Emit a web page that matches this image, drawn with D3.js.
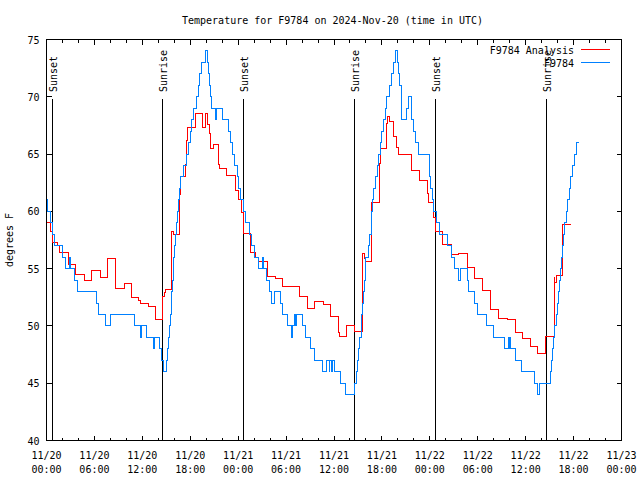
<!DOCTYPE html>
<html>
<head>
<meta charset="utf-8">
<script src="https://cdn.jsdelivr.net/npm/d3@7"></script>
<style>
  html, body { margin: 0; padding: 0; background: #fff; }
  svg { display: block; }
  text { font-family: "DejaVu Sans Mono", "Liberation Mono", monospace; font-size: 10px; fill: #000; }
</style>
</head>
<body>
<svg id="chart" width="640" height="480"></svg>
<script>
// ---- data (hours after 2024-11-20 00:00 UTC) ----
const title = "Temperature for F9784 on 2024-Nov-20 (time in UTC)";
const yLabel = "degrees F";
const seriesNames = ["F9784 Analysis", "F9784"];
const yTicks = [40, 45, 50, 55, 60, 65, 70, 75];

const sunEventNames = ["Sunset", "Sunrise", "Sunset", "Sunrise", "Sunset", "Sunrise"];
const sunEventHours = [0.73, 14.5, 24.65, 38.55, 48.69, 62.59];

// F9784 observations (step changes)
const obsHours = [0.0,0.1,0.44,0.69,1.0,2.02,2.44,2.86,3.03,3.5,3.86,6.28,6.57,7.45,8.03,11.0,11.79,11.92,12.55,13.4,13.5,14.09,14.42,14.71,15.0,15.17,15.3,15.4,15.5,15.6,15.68,15.76,15.84,15.92,16.0,16.1,16.25,16.4,16.5,16.6,16.72,17.13,17.55,17.76,17.97,18.18,18.38,18.81,19.01,19.22,19.43,19.97,20.14,20.28,20.39,20.56,20.68,21.22,21.31,22.06,22.77,23.1,23.31,23.6,23.9,24.06,24.23,24.65,24.9,25.4,25.61,26.03,26.57,26.99,27.15,27.6,27.9,28.2,28.61,29.28,29.6,30.2,30.7,30.78,31.03,31.24,31.32,32.08,32.45,33.0,33.54,34.6,35.08,35.4,35.48,35.7,35.78,36.04,36.79,37.5,38.6,38.84,39.0,39.12,39.25,39.4,39.5,39.62,39.72,39.8,39.9,40.0,40.3,40.5,40.65,40.75,40.85,41.0,41.2,41.4,41.6,41.8,42.0,42.2,42.4,42.6,43.0,43.2,43.4,43.64,43.95,44.1,44.25,44.4,44.5,45.02,45.31,45.73,45.94,46.25,46.6,47.94,48.1,48.35,48.5,48.81,49.15,50.19,50.7,51.03,51.61,51.78,52.7,52.86,53.61,54.03,55.07,56.0,57.37,57.79,57.87,58.0,58.1,58.7,59.5,61.1,61.46,61.72,63.13,63.25,63.38,63.54,63.67,63.88,64.0,64.09,64.2,64.3,64.5,64.63,64.71,64.85,65.13,65.26,65.55,65.67,65.84,66.09,66.4,66.67];
const obsTemps = [61,60,59,58,57,56,55,56,55,54,53,52,51,50,51,50,49,50,49,48,49,48,47,46,47,48,49,50,51,52,53,54,55,56,57,58,59,60,61,62,63,64,65,66,67,68,69,70,71,72,73,74,73,72,71,70,69,68,69,68,67,66,65,64,63,62,61,60,59,58,57,56,55,56,55,54,53,52,53,52,51,50,49,50,51,50,51,50,49,48,47,46,47,46,47,46,47,46,45,44,45,46,47,48,49,50,51,52,53,54,55,56,57,58,59,60,61,62,63,64,65,66,67,68,69,70,71,72,73,74,73,72,71,69,68,69,70,68,67,66,65,63,62,61,60,59,58,57,56,55,54,55,54,53,52,51,50,49,48,49,48,49,48,47,46,45,44,45,46,47,48,49,50,51,52,53,54,55,56,57,58,59,60,61,62,63,64,65,66,66];

// F9784 Analysis (step changes)
const anaHours = [0.0,0.55,0.69,1.36,1.69,2.74,3.69,4.75,5.65,6.72,7.7,8.7,9.75,10.66,11.5,11.71,12.75,13.7,14.55,14.72,14.9,15.68,15.85,16.6,16.8,17.35,17.5,17.65,18.65,19.55,19.97,20.14,20.39,20.56,20.9,21.5,21.7,22.55,23.7,24.0,24.4,24.62,25.5,26.15,26.57,27.7,28.65,29.6,31.65,32.7,33.6,34.65,35.55,36.55,36.75,37.55,38.6,39.6,39.85,40.0,40.72,41.65,41.8,42.6,42.75,42.95,43.45,43.77,44.05,45.7,46.7,47.65,47.8,48.52,48.69,49.6,50.7,51.65,52.7,53.61,54.57,55.57,56.62,57.7,58.7,59.66,60.62,61.54,62.5,63.55,63.67,63.8,64.6,65.63];
const anaTemps = [59.0,58.2,57.3,57.0,56.4,55.4,54.5,54.0,54.85,54.2,55.9,53.3,53.7,52.5,52.2,52.0,51.7,50.55,52.6,52.95,53.2,58.2,58.0,61.5,63.0,64.1,66.2,67.3,68.55,67.3,68.55,67.6,66.8,65.5,65.8,64.1,63.7,63.1,61.8,61.0,59.9,58.1,56.4,56.0,55.6,54.3,54.1,53.46,52.6,51.5,52.15,51.9,50.8,49.4,49.1,50.0,49.55,56.3,55.9,55.65,60.8,64.2,65.5,67.7,68.3,67.8,66.5,65.6,65.0,63.6,62.7,61.6,60.8,59.5,58.2,57.1,56.26,56.35,55.1,54.1,53.05,51.45,50.64,50.55,49.4,48.9,48.2,47.6,49.1,54.2,53.8,54.4,58.85,58.85];

// ---- drawing ----
const t0 = Date.UTC(2024, 10, 20);
const toDate = h => new Date(t0 + h * 3600e3);

const svg = d3.select("#chart");
const L = 46.5, R = 621.5, T = 39.5, B = 440.5;

const x = d3.scaleUtc().domain([toDate(0), toDate(72)]).range([L, R]);
const y = d3.scaleLinear().domain([40, 75]).range([B, T]);

const colors = ["#ff0000", "#0080ff"];

// title
svg.append("text").attr("x", 332.5).attr("y", 24).attr("text-anchor", "middle").text(title);

// y label
svg.append("text").attr("transform", "translate(13,240) rotate(-90)")
  .attr("text-anchor", "middle").text(yLabel);

const majorTimes = d3.utcHour.every(6).range(toDate(0), toDate(72.01));
const minorTimes = d3.utcHour.every(2).range(toDate(0), toDate(72.01))
  .filter(d => d.getUTCHours() % 6 !== 0);

function styleAxis(g) {
  g.select(".domain").remove();
  g.selectAll("line").attr("stroke", "#000").attr("shape-rendering", "crispEdges");
}

// bottom axis major + labels
const gB = svg.append("g").attr("transform", `translate(0,${B})`)
  .call(d3.axisBottom(x).tickValues(majorTimes).tickSize(-5).tickFormat("").offset(0))
  .call(styleAxis);
svg.append("g").attr("transform", `translate(0,${B})`)
  .call(d3.axisBottom(x).tickValues(minorTimes).tickSize(-3).tickFormat("").offset(0))
  .call(styleAxis);
// top mirror
svg.append("g").attr("transform", `translate(0,${T})`)
  .call(d3.axisTop(x).tickValues(majorTimes).tickSize(-5).tickFormat("").offset(0))
  .call(styleAxis);
svg.append("g").attr("transform", `translate(0,${T})`)
  .call(d3.axisTop(x).tickValues(minorTimes).tickSize(-3).tickFormat("").offset(0))
  .call(styleAxis);

const fmtDay = d3.utcFormat("%m/%d"), fmtHr = d3.utcFormat("%H:%M");
gB.selectAll(".tick").each(function(d) {
  const t = d3.select(this).append("text").attr("text-anchor", "middle").attr("fill", "#000");
  t.append("tspan").attr("x", 0).attr("y", 18).text(fmtDay(d));
  t.append("tspan").attr("x", 0).attr("y", 32).text(fmtHr(d));
});

// left axis
svg.append("g").attr("transform", `translate(${L},0)`)
  .call(d3.axisLeft(y).tickValues(yTicks).tickSize(-5).tickPadding(12).offset(0))
  .call(styleAxis)
  .call(g => g.selectAll("text").attr("dy", null).attr("y", 4).attr("x", -7)
    .style("font-family", "'DejaVu Sans Mono', monospace").style("font-size", "10px").attr("fill", "#000"));
// right mirror
svg.append("g").attr("transform", `translate(${R},0)`)
  .call(d3.axisRight(y).tickValues(yTicks).tickSize(-5).tickFormat("").offset(0))
  .call(styleAxis);

// frame
svg.append("rect").attr("x", L).attr("y", T).attr("width", R - L).attr("height", B - T)
  .attr("fill", "none").attr("stroke", "#000").attr("shape-rendering", "crispEdges");

// sun event lines + labels
sunEventHours.forEach((h, i) => {
  const px = x(toDate(h));
  svg.append("line").attr("x1", px).attr("x2", px).attr("y1", 99).attr("y2", B)
    .attr("stroke", "#000").attr("shape-rendering", "crispEdges");
  svg.append("text").attr("transform", `translate(${px + 5},92) rotate(-90)`)
    .attr("text-anchor", "start").text(sunEventNames[i]);
});

// series
const line = d3.line().curve(d3.curveStepAfter)
  .x(d => x(toDate(d[0]))).y(d => y(d[1]));

const anaData = anaHours.map((h, i) => [h, anaTemps[i]]);
const obsData = obsHours.map((h, i) => [h, obsTemps[i]]);

svg.append("path").datum(anaData).attr("d", line)
  .attr("fill", "none").attr("stroke", colors[0]).attr("stroke-width", 1)
  .attr("shape-rendering", "crispEdges");
svg.append("path").datum(obsData).attr("d", line)
  .attr("fill", "none").attr("stroke", colors[1]).attr("stroke-width", 1)
  .attr("shape-rendering", "crispEdges");

// legend
seriesNames.forEach((name, i) => {
  const ly = 49.5 + i * 13;
  svg.append("text").attr("x", 574).attr("y", ly + 4).attr("text-anchor", "end").text(name);
  svg.append("line").attr("x1", 581).attr("x2", 610).attr("y1", ly).attr("y2", ly)
    .attr("stroke", colors[i]).attr("shape-rendering", "crispEdges");
});
</script>
</body>
</html>
